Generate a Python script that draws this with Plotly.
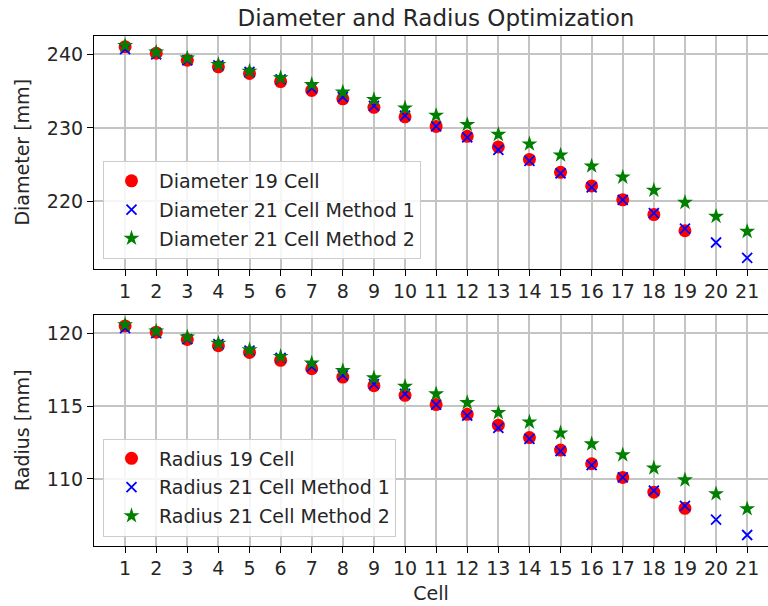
import plotly.graph_objects as go

cells19 = list(range(1, 20))
cells21 = list(range(1, 22))

diam_19 = [241.05, 240.15, 239.2, 238.3, 237.4, 236.3, 235.1, 233.95, 232.8, 231.5,
           230.2, 228.85, 227.4, 225.7, 223.95, 222.1, 220.2, 218.2, 216.0]
diam_21_m1 = [240.7, 240.0, 239.2, 238.5, 237.6, 236.6, 235.4, 234.2, 233.0, 231.65,
              230.2, 228.7, 227.0, 225.5, 223.8, 221.9, 220.2, 218.4, 216.3, 214.4, 212.3]
diam_21_m2 = [241.2, 240.3, 239.5, 238.6, 237.7, 236.8, 235.9, 234.85, 233.85, 232.7,
              231.7, 230.45, 229.1, 227.8, 226.3, 224.8, 223.3, 221.5, 219.85, 217.95, 215.9]

rad_19 = [120.5, 120.07, 119.57, 119.14, 118.68, 118.14, 117.56, 116.99, 116.4, 115.74,
          115.1, 114.43, 113.69, 112.84, 111.98, 111.04, 110.1, 109.09, 107.98]
rad_21_m1 = [120.35, 120.0, 119.6, 119.25, 118.8, 118.3, 117.7, 117.1, 116.5, 115.83,
             115.1, 114.35, 113.5, 112.75, 111.9, 110.95, 110.1, 109.2, 108.15, 107.2, 106.15]
rad_21_m2 = [120.58, 120.15, 119.74, 119.3, 118.85, 118.4, 117.95, 117.43, 116.93, 116.35,
             115.83, 115.23, 114.55, 113.9, 113.15, 112.4, 111.65, 110.75, 109.93, 108.98, 107.95]

xticks = list(range(1, 22))

FONT = "DejaVu Sans"
FS = 19
TXT = "#262626"
fig = go.Figure()

def add_series(x, y, name, color, symbol, size, xa, ya, legend, line=None):
    marker = dict(color=color, symbol=symbol, size=size)
    if line:
        marker["line"] = dict(color=color, width=line)
    fig.add_trace(go.Scatter(x=x, y=y, mode="markers", name=name, marker=marker,
                             xaxis=xa, yaxis=ya, legend=legend, legendgroup=name))

add_series(cells19, diam_19, "Diameter 19 Cell", "red", "circle", 13, "x", "y", "legend")
add_series(cells21, diam_21_m1, "Diameter 21 Cell Method 1", "blue", "x-thin", 10, "x", "y", "legend", 1.8)
add_series(cells21, diam_21_m2, "Diameter 21 Cell Method 2", "green", "star", 12, "x", "y", "legend")

add_series(cells19, rad_19, "Radius 19 Cell", "red", "circle", 13, "x2", "y2", "legend2")
add_series(cells21, rad_21_m1, "Radius 21 Cell Method 1", "blue", "x-thin", 10, "x2", "y2", "legend2", 1.8)
add_series(cells21, rad_21_m2, "Radius 21 Cell Method 2", "green", "star", 12, "x2", "y2", "legend2")

W, H = 768, 606
xdom = [94 / W, 1.0]
axis_common = dict(showgrid=True, gridcolor="#c4c4c4", gridwidth=1.5,
                   showline=True, linecolor="black", linewidth=1.2,
                   ticks="outside", ticklen=6, tickcolor="black", tickwidth=1.2,
                   tickfont=dict(family=FONT, size=FS, color=TXT),
                   zeroline=False)

legend_common = dict(x=103 / W, xanchor="left", yanchor="bottom", itemwidth=45,
                     traceorder="grouped", tracegroupgap=1,
                     bgcolor="rgba(255,255,255,0.85)", bordercolor="#cccccc", borderwidth=1,
                     font=dict(family=FONT, size=FS, color=TXT))

fig.update_layout(
    width=W, height=H,
    margin=dict(l=0, r=0, t=0, b=0),
    paper_bgcolor="white", plot_bgcolor="white",
    font=dict(family=FONT, color=TXT),
    title=dict(text="Diameter and Radius Optimization", x=436 / W, xanchor="center",
               y=1 - 18 / H, yanchor="middle", font=dict(family=FONT, size=23, color=TXT)),
    xaxis=dict(domain=xdom, anchor="y", range=[0, 21.67], tickmode="array",
               tickvals=xticks, mirror=True, **axis_common),
    yaxis=dict(domain=[1 - 268.5 / H, 1 - 36 / H], anchor="x", range=[210.86, 242.5],
               tickvals=[220, 230, 240],
               title=dict(text="Diameter [mm]", font=dict(family=FONT, size=FS, color=TXT), standoff=12),
               **axis_common),
    xaxis2=dict(domain=xdom, anchor="y2", range=[0, 21.67], tickmode="array",
                tickvals=xticks, mirror=True,
                title=dict(text="Cell", font=dict(family=FONT, size=FS, color=TXT), standoff=8),
                **axis_common),
    yaxis2=dict(domain=[1 - 545.5 / H, 1 - 315 / H], anchor="x2", range=[105.43, 121.25],
                tickvals=[110, 115, 120],
                title=dict(text="Radius [mm]", font=dict(family=FONT, size=FS, color=TXT), standoff=12),
                **axis_common),
    legend=dict(y=1 - 259 / H, **legend_common),
    legend2=dict(y=1 - 536.5 / H, **legend_common),
    showlegend=True,
)

fig.write_html("out.html")
